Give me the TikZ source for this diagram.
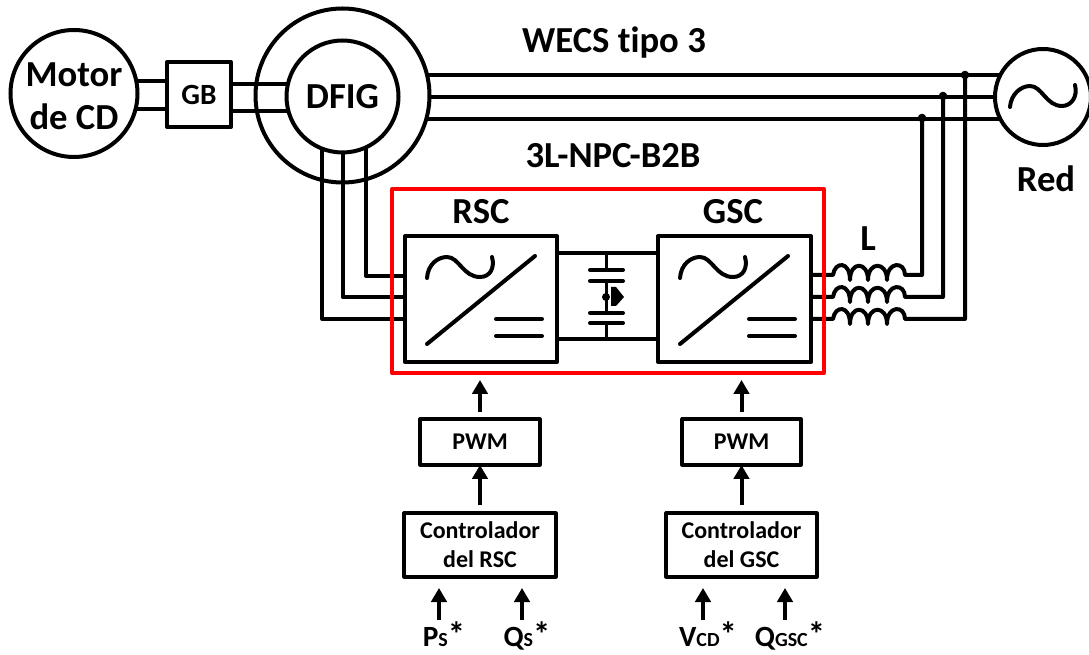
\documentclass[tikz,border=0pt]{standalone}
\usepackage{fontspec}
\setmainfont[Ligatures=NoCommon]{Carlito}
\usetikzlibrary{positioning,calc,arrows.meta}
\tikzset{>={Triangle[length=10.5pt,width=11.5pt]}}
\tikzset{wire/.style={line width=3pt,line join=round},
  machine/.style={circle,draw,line width=3pt,inner sep=0pt,outer sep=0pt},
  block/.style={rectangle,draw,line width=3pt,line join=round,inner sep=0pt,outer sep=0pt},
  thinblock/.style={rectangle,draw,line width=2.4pt,line join=round,inner sep=0pt,outer sep=0pt,align=center,font=\bfseries\fontsize{18}{22}\selectfont},
  bigtext/.style={inner sep=0pt,font=\bfseries\fontsize{27.5}{32}\selectfont,align=center},
  midtext/.style={inner sep=0pt,font=\bfseries\fontsize{22}{24}\selectfont},
  reftext/.style={inner sep=0pt,font=\bfseries\fontsize{22}{24}\selectfont,anchor=base}}
\newcommand{\sm}[1]{{\fontsize{15}{16}\selectfont #1}}
\newcommand{\st}{{\fontsize{26}{24}\selectfont *}}

\begin{document}
\begin{tikzpicture}[x=.75pt,y=-.75pt]
\useasboundingbox (0,0) rectangle (1089,655);
% machines
\node[machine,minimum size=127*.75pt] (motor) at (74,93.5) {};
\node[bigtext] (motorlabel) at (74,96.5) {Motor\\de CD};
\node[block,minimum width=64*.75pt,minimum height=65*.75pt,midtext] (gb) at (199,94.5) {GB};
\node[machine,minimum size=174*.75pt] (ring) at (342.5,95.5) {};
\node[machine,minimum size=112*.75pt,bigtext] (dfig) at (342.5,96.5) {DFIG};
\node[machine,minimum size=96*.75pt] (red) at (1043,97) {};
\node[bigtext] (redlabel) at (1046,179) {Red};
\node[bigtext] (wecs) at (614,43) {WECS tipo 3};
\node[bigtext] (b2b) at (613,156) {3L-NPC-B2B};
% converters
\node[block,minimum width=152*.75pt,minimum height=126*.75pt] (rsc) at (481,299) {};
\node[block,minimum width=153*.75pt,minimum height=126*.75pt] (gsc) at (734.5,299) {};
\node[bigtext] (rsclabel) at (481,212) {RSC};
\node[bigtext] (gsclabel) at (733,212) {GSC};
\node[bigtext] (llabel) at (868,239) {L};
% control
\node[thinblock,minimum width=120*.75pt,minimum height=46*.75pt] (pwma) at (480,442) {PWM};
\node[thinblock,minimum width=119*.75pt,minimum height=46*.75pt] (pwmb) at (741.5,442) {PWM};
\node[thinblock,minimum width=152*.75pt,minimum height=64*.75pt] (conta) at (480,545) {Controlador\\del RSC};
\node[thinblock,minimum width=151*.75pt,minimum height=64*.75pt] (contb) at (741.5,545) {Controlador\\del GSC};
\node[reftext] (ps) at (444,646) {P\sm{S}\st};
\node[reftext] (qs) at (527,646) {Q\sm{S}\st};
\node[reftext] (vcd) at (708,646) {V\sm{CD}\st};
\node[reftext] (qgsc) at (790,646) {Q\sm{GSC}\st};
% shafts
\draw[wire] (motor.11) -- (gb.west |- motor.11);
\draw[wire] (motor.-14) -- (gb.west |- motor.-14);
\draw[wire] (gb.east |- dfig.167) -- (dfig.167);
\draw[wire] (gb.east |- dfig.195) -- (dfig.195);
% stator to grid
\draw[wire] (red.153 -| ring.15) -- (red.153);
\draw[wire] (red.180 -| ring.0) -- (red.180);
\draw[wire] (red.207 -| ring.-15) -- (red.207);
% rotor to RSC
\draw[wire] (dfig.-65) |- (rsc.west |- 0,276);
\draw[wire] (dfig.-90) |- (rsc.west |- 0,297);
\draw[wire] (dfig.-111) |- (rsc.west |- 0,319);
% dc link
\draw[wire] (rsc.east |- 0,253) -- (gsc.west |- 0,253);
\draw[wire] (rsc.east |- 0,339) -- (gsc.west |- 0,339);
\draw[line width=2.4pt] (606.5,253) -- (606.5,270) (606.5,281) -- (606.5,313) (606.5,323) -- (606.5,339);
\foreach \y in {270,281,313,323}
  \draw[line width=3pt,line cap=round] (590,\y) -- (623,\y);
\fill (606,297) circle [radius=3pt];
\fill[line join=round] (611,287) -- (616,287) -- (624,297) -- (616,306) -- (611,306) -- cycle;
% converter symbols
\foreach \sx in {0,253} {
  \begin{scope}[xshift=\sx*.75pt,line width=3pt,line cap=round]
  \draw (427,278) .. controls (428,264) and (438,257) .. (447,257) .. controls (459,257) and (463,277) .. (480,277) .. controls (490,277) and (495,268) .. (492,257);
  \draw (427,344) -- (535,256);
  \draw (496,319) -- (542,319);
  \draw (496,336) -- (542,336);
  \end{scope}
}
\draw[line width=3pt,line cap=round] (1010,107) .. controls (1011,94) and (1021,86) .. (1030,86) .. controls (1042,86) and (1046,106) .. (1062,106) .. controls (1071,106) and (1078,97) .. (1075,85);
% filter and grid connection
\foreach \y/\j/\ya in {275/922/118,297/943/96,319/965/75} {
  \draw[wire] (gsc.east |- 0,\y) -- (833,\y) .. controls (835,\y-14) and (850,\y-14) .. (850,\y+5)
    .. controls (850,\y-14) and (868,\y-14) .. (868,\y+5)
    .. controls (868,\y-14) and (887,\y-14) .. (887,\y+5)
    .. controls (887,\y-14) and (905,\y-14) .. (905,\y) -| (\j,\ya);
  \fill (\j,\ya) circle [radius=3.2pt];
}
% red frame
\node[rectangle,draw=red,line width=3pt,line join=round,inner sep=0pt,outer sep=0pt,minimum width=432*.75pt,minimum height=184*.75pt] (frame) at (608,281) {};
% signal arrows
\draw[->,wire] (pwma.north |- 0,412) -- (pwma.north |- 0,380);
\draw[->,wire] (conta.north -| pwma.north) ++(0,-8) -- (pwma.south);
\draw[->,wire] (pwmb.north |- 0,412) -- (pwmb.north |- 0,380);
\draw[->,wire] (contb.north -| pwmb.north) ++(0,-8) -- (pwmb.south);
\draw[->,wire] (439,620) -- (439,588);
\draw[->,wire] (522,620) -- (522,588);
\draw[->,wire] (703,620) -- (703,588);
\draw[->,wire] (785,620) -- (785,588);
\end{tikzpicture}
\end{document}
